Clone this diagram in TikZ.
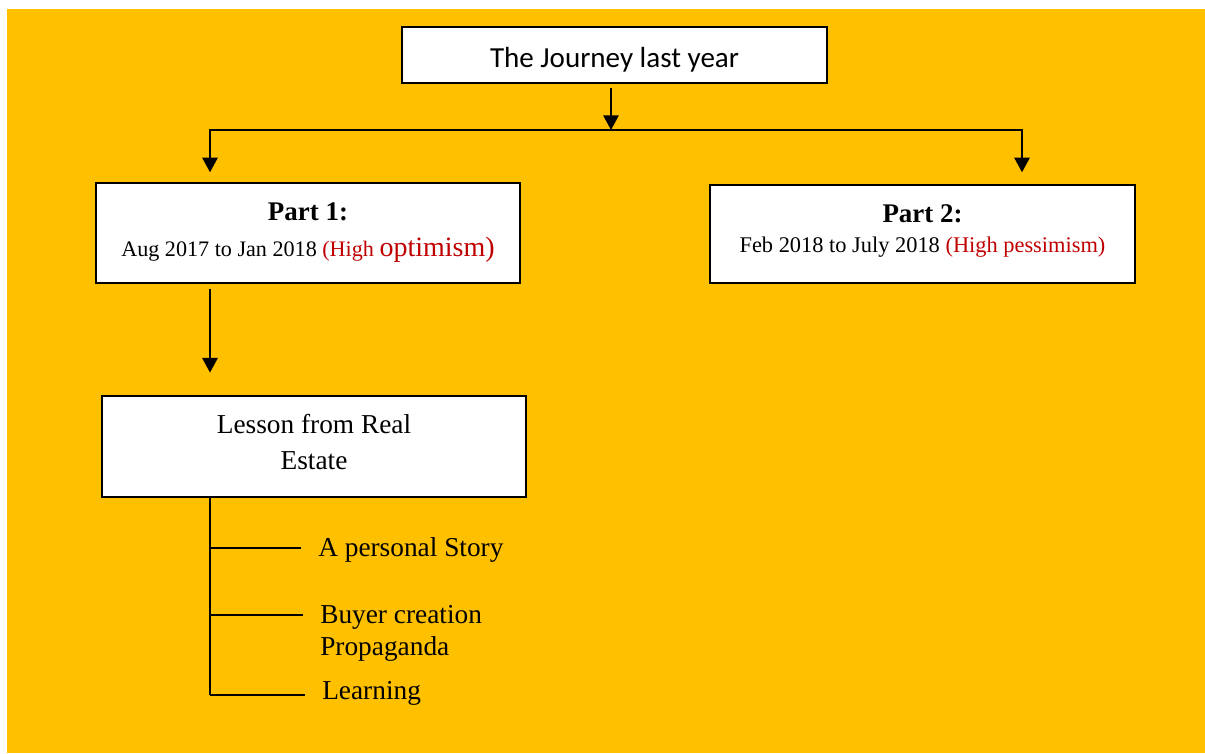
\documentclass[tikz,border=0pt]{standalone}
\usepackage{fontspec}
\setmainfont{Liberation Serif}
\newfontfamily\calibrifont{Carlito}
\usetikzlibrary{arrows.meta, positioning}
\definecolor{amber}{HTML}{FFC000}
\definecolor{darkred}{HTML}{C00000}

\begin{document}
\begin{tikzpicture}[x=0.75pt, y=-0.75pt, >=Stealth,
    card/.style={draw, line width=1.1pt, fill=white, align=center, inner sep=0pt},
    arr/.style={line width=1.5pt, -{Triangle[length=11pt, width=11.5pt]}},
    twig/.style={line width=1.3pt},
    leaf/.style={anchor=base west, inner xsep=12.75pt, inner ysep=0pt, align=left,
                 font=\fontsize{20.5}{24}\selectfont}]

    % the page and its amber backdrop:

    \fill[white] (0,0) rectangle (1205,753);
    \fill[amber] (7,9) rectangle (1205,753);

    % the boxes

    \node[card, minimum width=318.75pt, minimum height=42pt,
          font=\calibrifont\fontsize{21.8}{26}\selectfont] (journey) at (614.5,55)
        {\rule{0pt}{22pt}The Journey last year};

    \node[card, minimum width=318pt, minimum height=75pt, font=\fontsize{16.6}{27}\selectfont] (part1) at (308,233)
        {{\bfseries\fontsize{20.2}{27}\selectfont Part 1:}\\
         Aug 2017 to Jan 2018 \textcolor{darkred}{(High {\fontsize{21}{27}\selectfont optimism)}}};

    \node[card, minimum width=318.75pt, minimum height=73.5pt, font=\fontsize{16.8}{22.5}\selectfont] (part2) at (922.5,234)
        {{\bfseries\fontsize{20.2}{22.5}\selectfont Part 2:}\\
         Feb 2018 to July 2018 \textcolor{darkred}{(High pessimism)}\rule[-8pt]{0pt}{8pt}};

    \node[card, minimum width=318pt, minimum height=75.75pt, font=\fontsize{20.5}{27}\selectfont] (lesson) at (314,446.5)
        {Lesson from Real\\Estate\rule[-7.5pt]{0pt}{7.5pt}};

    % where the arrows split

    \coordinate (hub) at (611,130);
    \coordinate (barL) at (210,130);
    \coordinate (barR) at (1022,130);

    \draw[arr, shorten <=3pt] (journey.south -| hub) -- (hub);
    \draw[arr, shorten >=7.5pt] (hub) -| (barL |- part1.north);
    \draw[arr, shorten >=9pt] (hub) -| (barR |- part2.north);
    \draw[arr, shorten <=3.75pt, shorten >=17pt] (part1.south -| barL) -- (lesson.north -| barL);

    % the list under the lesson box

    \coordinate (k1) at (210,548);
    \coordinate (k2) at (210,615);
    \coordinate (k3) at (210,695);

    \node[leaf] (story) at (301,556.7) {A personal Story};
    \node[leaf] (buyer) at (303,655) {Buyer creation\\Propaganda};
    \node[leaf] (learning) at (305,699) {Learning};

    \draw[twig] (lesson.south -| barL) -- (k3);
    \draw[twig] (k1) -- (k1 -| story.west);
    \draw[twig] (k2) -- (k2 -| buyer.west);
    \draw[twig] (k3) -- (k3 -| learning.west);
%
\end{tikzpicture}
\end{document}
